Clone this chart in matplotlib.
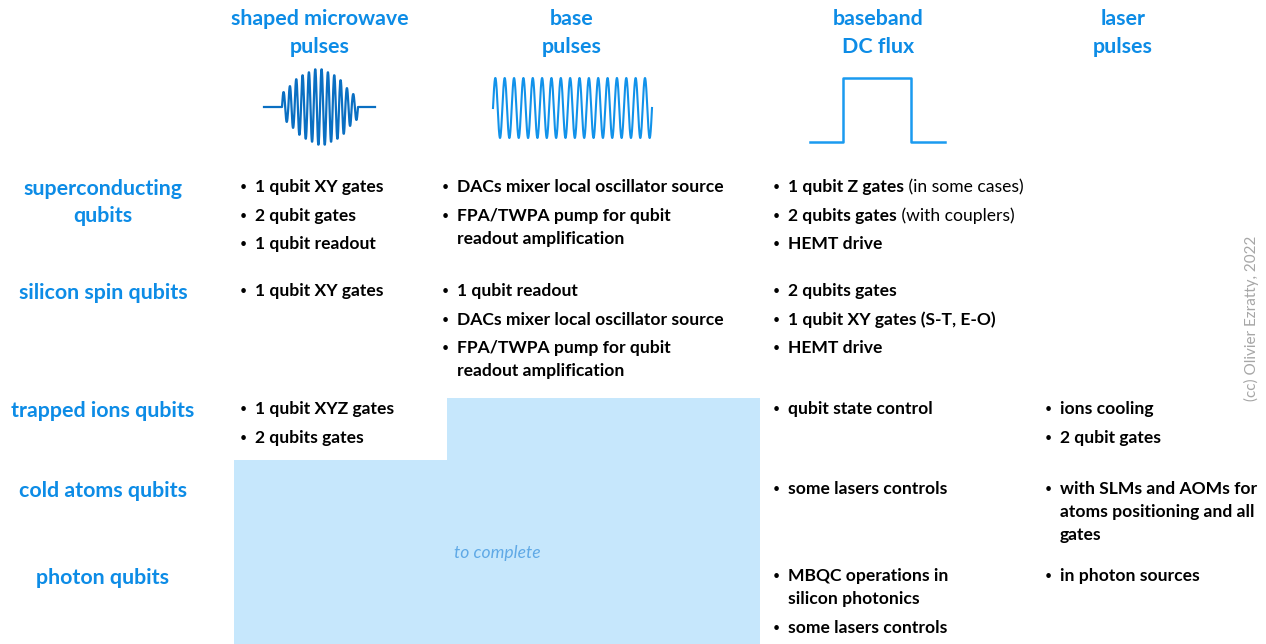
import numpy as np
import matplotlib.pyplot as plt
from matplotlib.patches import Polygon

# ---- chart content ----
col_titles = [["shaped microwave", "pulses"], ["base", "pulses"],
              ["baseband", "DC flux"], ["laser", "pulses"]]
row_titles = [["superconducting", "qubits"], ["silicon spin qubits"],
              ["trapped ions qubits"], ["cold atoms qubits"], ["photon qubits"]]

# one list of bullet items per row; "|" splits bold part from regular part
microwave_items = [
    ["1 qubit XY gates", "2 qubit gates", "1 qubit readout"],
    ["1 qubit XY gates"],
    ["1 qubit XYZ gates", "2 qubits gates"],
    [],
    [],
]
base_items = [
    ["DACs mixer local oscillator source", "FPA/TWPA pump for qubit\nreadout amplification"],
    ["1 qubit readout", "DACs mixer local oscillator source",
     "FPA/TWPA pump for qubit\nreadout amplification"],
    [],
    [],
    [],
]
dcflux_items = [
    ["1 qubit Z gates|(in some cases)", "2 qubits gates|(with couplers)", "HEMT drive"],
    ["2 qubits gates", "1 qubit XY gates (S-T, E-O)", "HEMT drive"],
    ["qubit state control"],
    ["some lasers controls"],
    ["MBQC operations in\nsilicon photonics", "some lasers controls"],
]
laser_items = [
    [],
    [],
    ["ions cooling", "2 qubit gates"],
    ["with SLMs and AOMs for\natoms positioning and all\ngates"],
    ["in photon sources"],
]
todo_text = "to complete"
credit = "(cc) Olivier Ezratty, 2022"

# waveform icons
shaped_crests = [15, 21, 28, 32, 35, 38, 38, 35, 32, 27, 19, 13]   # px, half-cycle peaks
base_cycles = 17
base_amp = 30

# ---- layout (pixels) ----
W, H = 1266, 644
col_center = [320, 572, 878, 1123]
col_bullet = [243, 445, 776, 1048]
row_y = [187, 291, 409, 489, 576]
label_x = 103
item_gap = 28.7
line_gap = 23

blue = "#0d8ce6"
font = "Lato"
fs_item = 12.6
fs_head = 15.4

fig = plt.figure(figsize=(W / 100, H / 100), dpi=100)
ax = fig.add_axes([0, 0, 1, 1])
ax.set_xlim(0, W)
ax.set_ylim(H, 0)
ax.axis("off")

# light blue "to complete" area
ax.add_patch(Polygon([[447, 398], [760, 398], [760, 644], [234, 644], [234, 460], [447, 460]],
                     closed=True, facecolor="#c6e7fc", edgecolor="none", zorder=0))
ax.text(497, 553, todo_text, color="#5fa9e6", fontsize=12.6, style="italic",
        family=font, ha="center", va="center")

# column headers
for cx, lines in zip(col_center, col_titles):
    for k, s in enumerate(lines):
        ax.text(cx, 19 + 28 * k, s, color=blue, fontsize=fs_head, fontweight="bold",
                family=font, ha="center", va="center")

# row headers
for ry, lines in zip(row_y, row_titles):
    for k, s in enumerate(lines):
        ax.text(label_x, ry + 2 + 27 * k, s, color=blue, fontsize=fs_head, fontweight="bold",
                family=font, ha="center", va="center")

# bullet cells
for bx, col in zip(col_bullet, [microwave_items, base_items, dcflux_items, laser_items]):
    for ry, items in zip(row_y, col):
        y = ry
        for item in items:
            ax.text(bx, y, "\u2022", fontsize=9, family=font, ha="center", va="center",
                    color="black")
            for line in item.split("\n"):
                bold, _, rest = line.partition("|")
                t = ax.text(bx + 12, y, bold, fontsize=fs_item, fontweight="bold",
                            family=font, ha="left", va="center", color="black")
                if rest:
                    ax.annotate(" " + rest, xy=(1, 0.5), xycoords=t, fontsize=fs_item,
                                family=font, ha="left", va="center", color="black")
                y += line_gap
            y += item_gap - line_gap

# shaped microwave pulse icon
x0, x1, yc = 282, 358, 107
n = len(shaped_crests)
seg = (x1 - x0) / n
xs, ys = [264], [yc]
for i, a in enumerate(shaped_crests):
    for sgn in (1, -1):
        t = np.linspace(0, 1, 12)
        xx = x0 + seg * i + seg / 2 * ((0 if sgn == 1 else 1) + t)
        xs.extend(xx)
        ys.extend(yc - sgn * a * np.sin(np.pi * t))
xs += [375]
ys += [yc]
ax.plot(xs, ys, color="#0a6fc2", lw=1.6)

# base pulses icon
bx0, bx1, byc = 493, 652, 108
t = np.linspace(0, 1, 1200)
ax.plot(bx0 + (bx1 - bx0) * t, byc - base_amp * np.sin(2 * np.pi * base_cycles * t),
        color="#1192ea", lw=1.5)

# baseband DC flux icon
ax.plot([810, 843, 843, 911, 911, 945], [142, 142, 78, 78, 142, 142],
        color="#1a9bf0", lw=1.8)

# credit
ax.text(1251, 318, credit, rotation=90, color="#a6a6a6", fontsize=11,
        family=font, ha="center", va="center")

fig.savefig("out.png", dpi=100)
